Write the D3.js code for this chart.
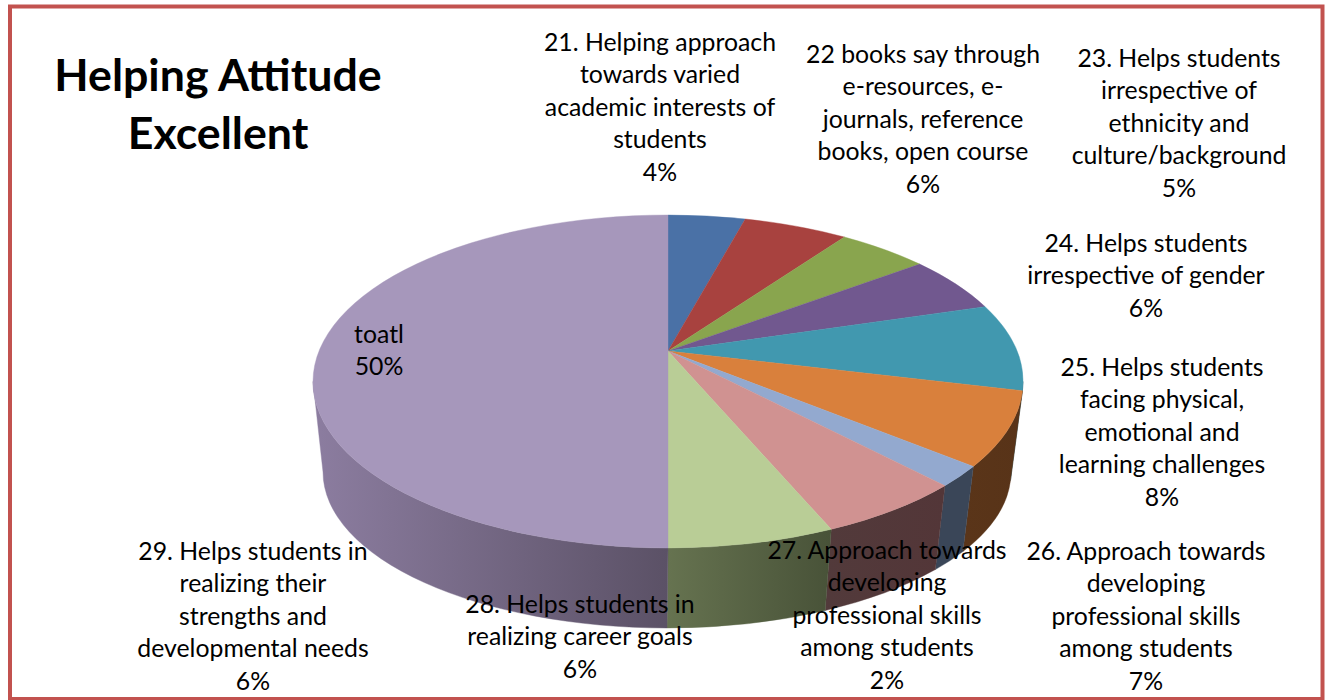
<!DOCTYPE html>
<html><head><meta charset="utf-8">
<script src="https://cdn.jsdelivr.net/npm/d3@7/dist/d3.min.js"></script>
<style>html,body{margin:0;padding:0;background:#fff}svg{display:block}text{font-family:Lato,"Open Sans",sans-serif;fill:#000}</style>
</head><body><svg id="c" width="1330" height="700"></svg>
<script>
// Data
const titleLines = ["Helping Attitude", "Excellent"];
const labelLines = [
  ["21. Helping approach","towards varied","academic interests of","students"],
  ["22 books say through","e-resources, e-","journals, reference","books, open course"],
  ["23. Helps students","irrespective of","ethnicity and","culture/background"],
  ["24. Helps students","irrespective of gender"],
  ["25. Helps students","facing physical,","emotional and","learning challenges"],
  ["26. Approach towards","developing","professional skills","among students"],
  ["27. Approach towards","developing","professional skills","among students"],
  ["28. Helps students in","realizing career goals"],
  ["29. Helps students in","realizing their","strengths and","developmental needs"],
  ["toatl"]
];
const percents = [4.3,5.8,5.0,5.6,8.49,7.05,1.96,5.6,6.2,50];

// Styles
const topColors  = ["#4a71a6","#a8423f","#89a54e","#71588f","#4198af","#d9803c","#93a9cf","#d09291","#b9cd96","#a697bb"];
const wallLeft   = ["#2c4464","#652826","#526330","#443555","#265b69","#5a3519","#3a4658","#523a3b","#667350","#8c7da0"];
const wallRight  = ["#2c4464","#652826","#526330","#443555","#265b69","#583318","#3a4658","#533638","#485238","#5b5166"];

// Layout
const W = 1330, H = 700;
const topE = {cx:668, cy:381.5, rx:355, ry:166.5};
const botE = {cx:667, cy:472, rx:344, ry:156};
const apex = {x:668, y:351};
const persp = 0.81;           // foreshortening of the 3D tilt
const labelAt = [[660,51],[923,63],[1179,67],[1146,252],[1162,376],[1146,560],[887,559],[580,613],[253,560],[379,343]];
const lineGap = 32.45;
const fs = 24.8;

const svg = d3.select("#c");
const defs = svg.append("defs");

// frame
svg.append("rect").attr("x",10).attr("y",6.5).attr("width",1312.5).attr("height",692.5)
  .attr("fill","#fff").attr("stroke","#c2524f").attr("stroke-width",4);

const warp = a => {
  const h = a / 2;
  if (Math.abs(h - Math.PI/2) < 1e-9) return a;
  let t = 2 * Math.atan(persp * Math.tan(h));
  if (t < 0) t += 2 * Math.PI;
  return t;
};
const pt = (e,a) => [e.cx + e.rx*Math.sin(a), e.cy - e.ry*Math.cos(a)];
const arcs = d3.pie().sort(null).value(d=>d)(percents).map((d,i)=>({
  i, a0:warp(d.startAngle), a1:d.index===percents.length-1?2*Math.PI:warp(d.endAngle)
}));

// walls (only the near half of the rim is visible)
const lo = Math.PI/2, hi = 3*Math.PI/2;
arcs.forEach(d=>{
  const a0 = Math.max(d.a0,lo), a1 = Math.min(d.a1,hi);
  if (a1 <= a0) return;
  const [x0,y0]=pt(topE,a0),[x1,y1]=pt(topE,a1),[x2,y2]=pt(botE,a1),[x3,y3]=pt(botE,a0);
  const id="w"+d.i;
  const g=defs.append("linearGradient").attr("id",id).attr("gradientUnits","userSpaceOnUse")
    .attr("x1",Math.min(x0,x1,x2,x3)).attr("x2",Math.max(x0,x1,x2,x3)).attr("y1",0).attr("y2",0);
  g.append("stop").attr("offset",0).attr("stop-color",wallLeft[d.i]);
  g.append("stop").attr("offset",1).attr("stop-color",wallRight[d.i]);
  svg.append("path")
    .attr("d",`M${x0},${y0}A${topE.rx},${topE.ry} 0 0 1 ${x1},${y1}L${x2},${y2}A${botE.rx},${botE.ry} 0 0 0 ${x3},${y3}Z`)
    .attr("fill",`url(#${id})`).attr("stroke",`url(#${id})`).attr("stroke-width",0.4);
});

// top face
arcs.forEach(d=>{
  const [x0,y0]=pt(topE,d.a0),[x1,y1]=pt(topE,d.a1);
  const large = d.a1-d.a0>Math.PI?1:0;
  svg.append("path")
    .attr("d",`M${apex.x},${apex.y}L${x0},${y0}A${topE.rx},${topE.ry} 0 ${large} 1 ${x1-0.01},${y1}Z`)
    .attr("fill",topColors[d.i]).attr("stroke",topColors[d.i]).attr("stroke-width",0.4);
});

// title
const t = svg.append("g").attr("text-anchor","middle").attr("font-weight",700).attr("font-size",44.7);
titleLines.forEach((s,i)=>t.append("text").attr("x",218).attr("y",91+i*58).text(s));

// labels
const lg = svg.append("g").attr("text-anchor","middle").attr("font-size",fs);
labelLines.forEach((lines,i)=>{
  const [x,y]=labelAt[i];
  [...lines,Math.round(percents[i])+"%"].forEach((s,j)=>lg.append("text").attr("x",x).attr("y",y+j*lineGap).text(s));
});
</script></body></html>
